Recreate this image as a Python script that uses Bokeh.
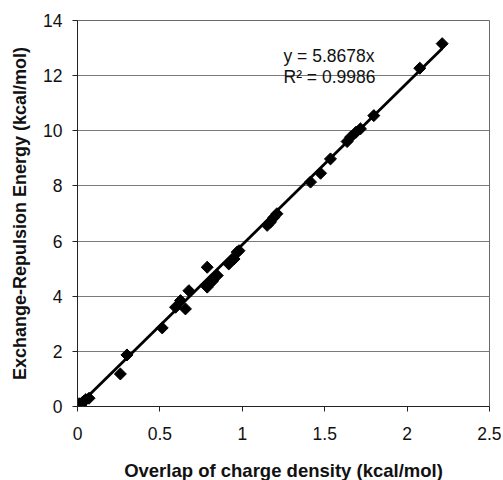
from bokeh.plotting import figure
from bokeh.models import Range1d, FixedTicker, Label, ColumnDataSource
from bokeh.embed import file_html
from bokeh.resources import INLINE
import numpy as np

# data
overlap = [0.0, 0.01, 0.02, 0.03, 0.04, 0.05, 0.07,
           0.26, 0.30, 0.514, 0.595, 0.625, 0.655, 0.676,
           0.787, 0.787, 0.80, 0.82, 0.848, 0.918, 0.95, 0.969, 0.98,
           1.151, 1.171, 1.19, 1.21, 1.414, 1.475, 1.535,
           1.636, 1.657, 1.69, 1.717, 1.798, 2.077, 2.213]
energy = [0.0, 0.1, 0.05, 0.15, 0.2, 0.25, 0.3,
          1.18, 1.87, 2.85, 3.6, 3.84, 3.54, 4.2,
          4.33, 5.05, 4.45, 4.55, 4.75, 5.17, 5.35, 5.6, 5.65,
          6.57, 6.69, 6.85, 6.99, 8.14, 8.46, 8.98,
          9.61, 9.77, 9.95, 10.07, 10.55, 12.27, 13.16]
slope = 5.8678
r2 = 0.9986
x_ticks = [0, 0.5, 1, 1.5, 2, 2.5]
x_tick_labels = ["0", "0.5", "1", "1.5", "2", "2.5"]
y_ticks = [0, 2, 4, 6, 8, 10, 12, 14]
y_tick_labels = ["0", "2", "4", "6", "8", "10", "12", "14"]

FONT = "Liberation Sans"

p = figure(frame_width=412, frame_height=386,
           x_range=Range1d(0, 2.5), y_range=Range1d(0, 14),
           output_backend="svg", toolbar_location=None,
           min_border_left=77, min_border_top=20, min_border_right=12,
           min_border_bottom=72, background_fill_color="white",
           border_fill_color="white")

p.outline_line_color = "#6a6a6a"
p.outline_line_width = 1

p.xgrid.visible = False
p.ygrid.grid_line_color = "#7a7a7a"
p.ygrid.grid_line_width = 1

p.xaxis.ticker = FixedTicker(ticks=x_ticks)
p.yaxis.ticker = FixedTicker(ticks=y_ticks)
p.xaxis.major_label_overrides = {t: l for t, l in zip(x_ticks, x_tick_labels)}
p.yaxis.major_label_overrides = {t: l for t, l in zip(y_ticks, y_tick_labels)}

for ax in (p.xaxis, p.yaxis):
    ax.axis_line_color = "#222222"
    ax.axis_line_width = 1
    ax.major_tick_line_color = "#222222"
    ax.major_tick_out = 5
    ax.major_tick_in = 0
    ax.minor_tick_line_color = None
    ax.major_label_text_font = FONT
    ax.major_label_text_font_size = "17.5px"
    ax.major_label_text_color = "#111111"
    ax.axis_label_text_font = FONT
    ax.axis_label_text_font_style = "bold"
    ax.axis_label_text_color = "#111111"

p.xaxis.axis_label_text_font_size = "18.5px"
p.yaxis.axis_label_text_font_size = "18px"
p.xaxis.axis_label = "Overlap of charge density (kcal/mol)"
p.yaxis.axis_label = "Exchange-Repulsion Energy (kcal/mol)"
p.xaxis.major_label_standoff = 15
p.yaxis.major_label_standoff = 10
p.xaxis.axis_label_standoff = 17
p.yaxis.axis_label_standoff = 10

src = ColumnDataSource(data=dict(x=overlap, y=energy))
p.scatter("x", "y", source=src, marker="square", size=8.5, angle=np.pi / 4,
          fill_color="black", line_color="black")

xl = [0, max(overlap)]
p.line(xl, [slope * v for v in xl], line_color="black", line_width=2.8)

p.add_layout(Label(x=1.25, y=12.73, text=f"y = {slope}x", text_font=FONT,
                   text_font_size="17.5px", text_baseline="alphabetic", text_color="#111111"))
p.add_layout(Label(x=1.25, y=11.94, text=f"R² = {r2}", text_font=FONT,
                   text_font_size="17.5px", text_baseline="alphabetic", text_color="#111111"))

open("out.html", "w").write(file_html(p, INLINE))
